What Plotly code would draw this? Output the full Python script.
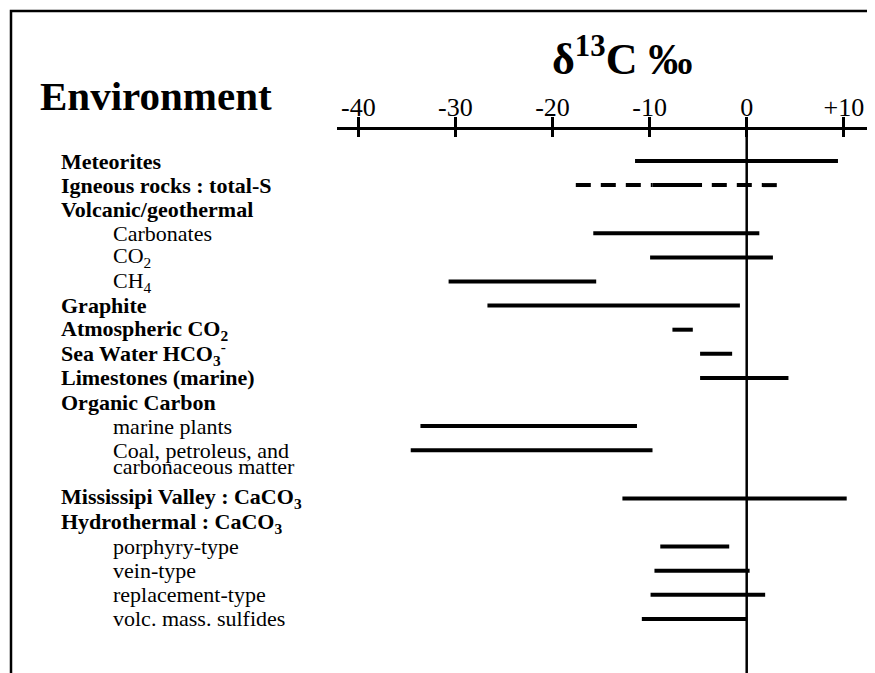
import plotly.graph_objects as go

# ---------------- data ----------------
labels = [
    "Meteorites",
    "Igneous rocks : total-S",
    "Volcanic/geothermal",
    "Carbonates",
    "CO<sub>2</sub>",
    "CH<sub>4</sub>",
    "Graphite",
    "Atmospheric CO<sub>2</sub>",
    "Sea Water HCO<sub>3</sub><sup>-</sup>",
    "Limestones (marine)",
    "Organic Carbon",
    "marine plants",
    "Coal, petroleus, and<br>carbonaceous matter",
    "Mississipi Valley : CaCO<sub>3</sub>",
    "Hydrothermal : CaCO<sub>3</sub>",
    "porphyry-type",
    "vein-type",
    "replacement-type",
    "volc. mass. sulfides",
]
is_sub_item = [0, 0, 0, 1, 1, 1, 0, 0, 0, 0, 0, 1, 1, 0, 0, 1, 1, 1, 1]
range_low = [-11.5, -17.6, None, -15.8, -9.95, -30.7, -26.7, -7.65, -4.8, -4.8,
             None, -33.6, -34.6, -12.8, None, -8.9, -9.5, -9.9, -10.8]
range_high = [9.4, 3.1, None, 1.3, 2.7, -15.5, -0.7, -5.55, -1.5, 4.3,
              None, -11.3, -9.7, 10.3, None, -1.8, 0.3, 1.9, 0.0]
dashed_item = "Igneous rocks : total-S"
dashed_core = (-9.7, -4.6)   # solid (common) part of the dashed range

tick_vals = [-40, -30, -20, -10, 0, 10]
tick_text = ["-40", "-30", "-20", "-10", "0", "+10"]

# ---------------- layout constants (page pixels) ----------------
PAGE_W, PAGE_H = 875, 673
OFF = 8                      # default body margin of the html page
W, H = PAGE_W - OFF, PAGE_H - OFF
ZERO_PX = 746.7
PX_PER_UNIT = 9.71
AXIS_LEFT_PX = 337
AXIS_Y_PX = 128
ROW0_PX = 161
ROW_PX = 24.1
WRAP_LINE_PX = 16            # spacing of wrapped label lines
SERIF = "Liberation Serif"


def px_x(p):
    return (p - OFF) / W


def px_y(p):
    return 1 - (p - OFF) / H


# row index per label (multi-line labels take several slots)
rows = []
r = 0
for lab in labels:
    rows.append(r)
    r += lab.count("<br>") + 1

fig = go.Figure()

# solid ranges
xs, ys = [], []
for lab, lo, hi, row in zip(labels, range_low, range_high, rows):
    if lo is None or lab == dashed_item:
        continue
    xs += [lo, hi, None]
    ys += [row, row, None]
fig.add_trace(go.Scatter(x=xs, y=ys, mode="lines",
                         line=dict(color="black", width=4),
                         hoverinfo="skip", xaxis="x", yaxis="y"))

# dashed range with solid core
i = labels.index(dashed_item)
row = rows[i]
lo, hi = range_low[i], range_high[i]
fig.add_trace(go.Scatter(x=[lo, dashed_core[0]], y=[row, row], mode="lines",
                         line=dict(color="black", width=4, dash="15px,10px"),
                         hoverinfo="skip"))
fig.add_trace(go.Scatter(x=[hi, dashed_core[1]], y=[row, row], mode="lines",
                         line=dict(color="black", width=4, dash="15px,10px"),
                         hoverinfo="skip"))
fig.add_trace(go.Scatter(x=list(dashed_core), y=[row, row], mode="lines",
                         line=dict(color="black", width=4),
                         hoverinfo="skip"))
# dummy trace for the second (lower-tick) axis
fig.add_trace(go.Scatter(x=[None], y=[None], xaxis="x2", yaxis="y",
                         mode="lines", hoverinfo="skip"))

# labels (wrapped lines placed with tight spacing like the reference)
for lab, sub, row in zip(labels, is_sub_item, rows):
    for k, part in enumerate(lab.split("<br>")):
        text = part if sub else "<b>" + part + "</b>"
        fig.add_annotation(text=text, xref="paper", yref="y",
                           x=px_x(111 if sub else 59),
                           y=row + k * WRAP_LINE_PX / ROW_PX,
                           xanchor="left", yanchor="middle", showarrow=False,
                           align="left",
                           font=dict(family=SERIF, size=22, color="black"))

fig.add_annotation(text="<b>Environment</b>", xref="paper", yref="paper",
                   x=px_x(38), y=px_y(96), xanchor="left", yanchor="middle",
                   showarrow=False,
                   font=dict(family=SERIF, size=41, color="black"))
fig.add_annotation(text="<b>δ<sup>13</sup>C ‰</b>", xref="paper", yref="paper",
                   x=px_x(622), y=px_y(56), xanchor="center", yanchor="middle",
                   showarrow=False,
                   font=dict(family=SERIF, size=44, color="black"))

x_range = [(AXIS_LEFT_PX - ZERO_PX) / PX_PER_UNIT, (PAGE_W - ZERO_PX) / PX_PER_UNIT]
x_domain = [px_x(AXIS_LEFT_PX), 1]
axis_pos = px_y(AXIS_Y_PX)

common = dict(range=x_range, domain=x_domain, anchor="free", position=axis_pos,
              showgrid=False, zeroline=False, tickvals=tick_vals,
              fixedrange=True, tickcolor="black", tickwidth=2.5)
fig.update_layout(
    width=W, height=H,
    margin=dict(l=0, r=0, t=0, b=0),
    paper_bgcolor="white", plot_bgcolor="white",
    showlegend=False,
    xaxis=dict(**common, side="top", showline=True, linecolor="black",
               linewidth=3, ticks="outside", ticklen=10,
               ticktext=tick_text, showticklabels=True,
               ticklabelstandoff=-9,
               tickfont=dict(family=SERIF, size=26, color="black")),
    xaxis2=dict(**common, overlaying="x", side="bottom", showline=False,
                ticks="outside", ticklen=8, showticklabels=False),
    yaxis=dict(range=[(PAGE_H - ROW0_PX) / ROW_PX, (OFF - ROW0_PX) / ROW_PX],
               domain=[0, 1], visible=False, fixedrange=True),
)

# zero reference line
fig.add_shape(type="line", xref="x", yref="paper", x0=0, x1=0,
              y0=-0.02, y1=px_y(119), line=dict(color="black", width=2.5))
# frame (open at right and bottom)
fig.add_shape(type="rect", xref="paper", yref="paper",
              x0=px_x(11), x1=1.02, y0=-0.02, y1=px_y(11),
              line=dict(color="black", width=2.5))

fig.write_html("out.html")
